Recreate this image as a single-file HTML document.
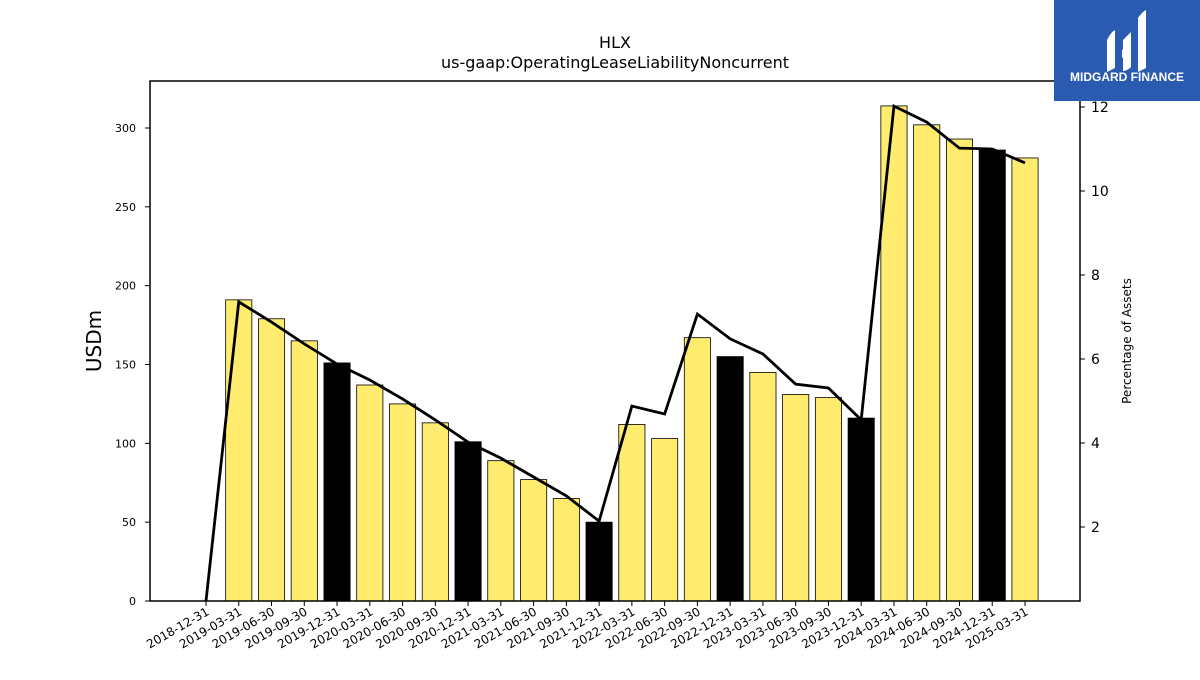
<!DOCTYPE html>
<html><head><meta charset="utf-8"><style>
body{margin:0;background:#fff;font-family:"Liberation Sans","DejaVu Sans",sans-serif}
svg text{font-family:"DejaVu Sans","Liberation Sans",sans-serif}
</style></head><body>
<svg id="c" width="1200" height="675" viewBox="0 0 1200 675" xmlns="http://www.w3.org/2000/svg">
<rect width="1200" height="675" fill="#fff"/>
<text x="615" y="48" text-anchor="middle" font-size="16">HLX</text>
<text x="615" y="68" text-anchor="middle" font-size="16">us-gaap:OperatingLeaseLiabilityNoncurrent</text>
<g id="bars"></g><g id="line"></g><g id="axes"></g>
<rect x="150" y="81" width="930" height="520" fill="none" stroke="#000" stroke-width="1.5"/>
<text transform="translate(101,341) rotate(-90)" text-anchor="middle" font-size="20">USDm</text>
<text transform="translate(1131,341) rotate(-90)" text-anchor="middle" font-size="12">Percentage of Assets</text>
<g>
<rect x="1054" y="0" width="146" height="101" fill="#2b5bb0"/>
<path d="M1107 40 q4 -8 8 -10 v38 q-4 2 -8 4z M1123 40 l8 -8 v35 q-4 4 -8 4z M1138 18 q4 -6 8 -8 v58 q-4 2 -8 4z M1122 50 l8 -6 v8 l-8 6z" fill="#fff"/>
<text x="1127" y="81" text-anchor="middle" font-size="12" font-weight="bold" fill="#fff" style="font-family:'Liberation Sans',sans-serif">MIDGARD FINANCE</text>
</g>
</svg>
<script>
const categories=["2018-12-31","2019-03-31","2019-06-30","2019-09-30","2019-12-31","2020-03-31","2020-06-30","2020-09-30","2020-12-31","2021-03-31","2021-06-30","2021-09-30","2021-12-31","2022-03-31","2022-06-30","2022-09-30","2022-12-31","2023-03-31","2023-06-30","2023-09-30","2023-12-31","2024-03-31","2024-06-30","2024-09-30","2024-12-31","2025-03-31"];
const barValues=[0,191,179,165,151,137,125,113,101,89,77,65,50,112,103,167,155,145,131,129,116,314,302,293,286,281];
const pctValues=[0.24,7.36,6.88,6.36,5.88,5.5,5.05,4.55,4.02,3.64,3.19,2.74,2.14,4.88,4.69,7.07,6.48,6.12,5.4,5.31,4.55,12.02,11.64,11.02,11.0,10.67];
const leftTicks=[0,50,100,150,200,250,300];
const rightTicks=[2,4,6,8,10,12];
const NS="http://www.w3.org/2000/svg";
const x=i=>206+i*32.76;
const yL=v=>601-v*1.5767;
const yR=v=>611-v*42;
function mk(t,a,p){const e=document.createElementNS(NS,t);for(const k in a)e.setAttribute(k,a[k]);p.appendChild(e);return e;}
const gb=document.getElementById('bars'),gl=document.getElementById('line'),ga=document.getElementById('axes');
barValues.forEach((v,i)=>{if(!v)return;const d=categories[i];const blk=d.endsWith("12-31");
const r=mk('rect',{x:x(i)-13.1,y:yL(v),width:26.2,height:yL(0)-yL(v),fill:blk?'#000':'#ffec6e',stroke:'#000','stroke-width':0.8},gb);

});
const pl=mk('polyline',{points:pctValues.map((v,i)=>x(i)+','+yR(v)).join(' '),fill:'none',stroke:'#000','stroke-width':2.8},gl);


leftTicks.forEach(t=>{mk('line',{x1:145,x2:150,y1:yL(t),y2:yL(t),stroke:'#000'},ga);
const tx=mk('text',{x:136,y:yL(t)+4,'text-anchor':'end','font-size':11},ga);tx.textContent=t;

});
rightTicks.forEach(t=>{mk('line',{x1:1080,x2:1085,y1:yR(t),y2:yR(t),stroke:'#000'},ga);
const tx=mk('text',{x:1091,y:yR(t)+5,'font-size':14},ga);tx.textContent=t;

});
categories.forEach((c,i)=>{mk('line',{x1:x(i),x2:x(i),y1:601,y2:606,stroke:'#000'},ga);
const tx=mk('text',{x:x(i)+4,y:614,'text-anchor':'end','font-size':12,transform:`rotate(-30 ${x(i)+4} 614)`},ga);tx.textContent=c;

});
</script>
</body></html>
